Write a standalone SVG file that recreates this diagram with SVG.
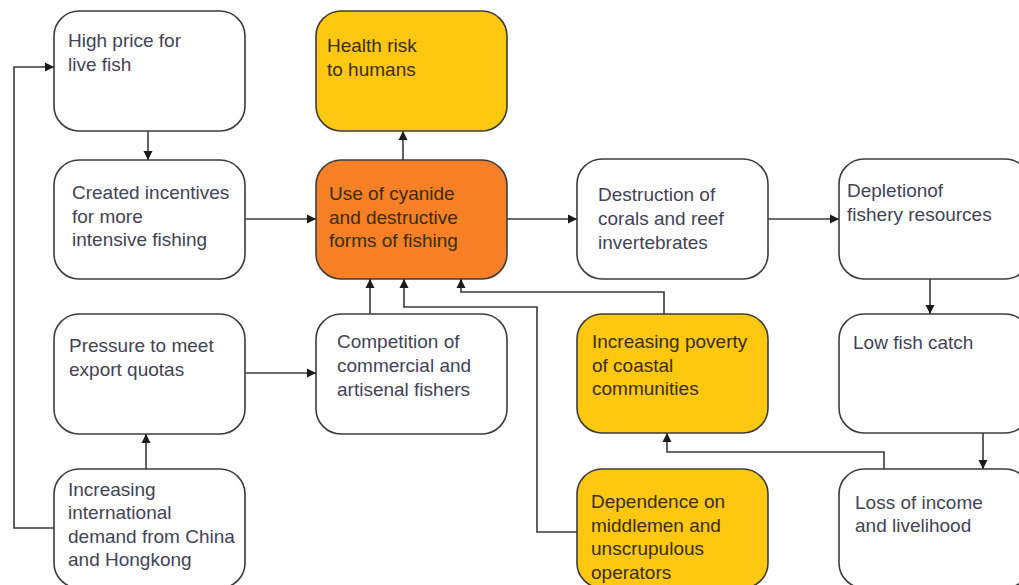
<svg xmlns="http://www.w3.org/2000/svg" width="1019" height="585" viewBox="0 0 1019 585">
<defs>
<marker id="ah" viewBox="0 0 10 10" refX="10" refY="5" markerWidth="9" markerHeight="10" markerUnits="userSpaceOnUse" orient="auto">
<path d="M0,0 L10,5 L0,10 z" fill="#1a1a1a"/>
</marker>
<style>
.box{stroke:#3c3c3c;stroke-width:1.6}
.w{fill:#ffffff}
.y{fill:#fdc80f}
.o{fill:#f77f26}
text{font-family:"Liberation Sans",Arial,sans-serif;font-size:19px}
.tw{fill:#434356}
.td{fill:#3a2e05}
.c{fill:none;stroke:#3a3a3a;stroke-width:1.6}
</style>
</defs>
<rect width="1019" height="585" fill="#ffffff"/>
<g id="connectors">
<path class="c" d="M148,131 V160" marker-end="url(#ah)"/>
<path class="c" d="M54,528 H14 V67 H54" marker-end="url(#ah)"/>
<path class="c" d="M146,469 V434" marker-end="url(#ah)"/>
<path class="c" d="M245,219 H316" marker-end="url(#ah)"/>
<path class="c" d="M245,373 H316" marker-end="url(#ah)"/>
<path class="c" d="M403,160 V131" marker-end="url(#ah)"/>
<path class="c" d="M507,219 H577" marker-end="url(#ah)"/>
<path class="c" d="M768,219 H839" marker-end="url(#ah)"/>
<path class="c" d="M930,279 V314" marker-end="url(#ah)"/>
<path class="c" d="M983,433 V469" marker-end="url(#ah)"/>
<path class="c" d="M884,469 V452 H667 V433" marker-end="url(#ah)"/>
<path class="c" d="M370,314 V279" marker-end="url(#ah)"/>
<path class="c" d="M577,532 H537 V307 H404 V279" marker-end="url(#ah)"/>
<path class="c" d="M664,314 V292 H461 V279" marker-end="url(#ah)"/>
</g>
<g id="high-price">
<rect class="box w" x="54" y="11" width="191" height="120" rx="25"/>
<text class="tw" x="68" y="47">High price for</text>
<text class="tw" x="68" y="71">live fish</text>
</g>
<g id="health-risk">
<rect class="box y" x="316" y="11" width="191" height="120" rx="25"/>
<text class="td" x="327" y="52">Health risk</text>
<text class="td" x="327" y="76">to humans</text>
</g>
<g id="created-incentives">
<rect class="box w" x="54" y="160" width="191" height="119" rx="25"/>
<text class="tw" x="72" y="199">Created incentives</text>
<text class="tw" x="72" y="223">for more</text>
<text class="tw" x="72" y="246">intensive fishing</text>
</g>
<g id="use-of-cyanide">
<rect class="box o" x="316" y="160" width="191" height="119" rx="25"/>
<text class="td" x="329" y="200">Use of cyanide</text>
<text class="td" x="329" y="224">and destructive</text>
<text class="td" x="329" y="247">forms of fishing</text>
</g>
<g id="destruction">
<rect class="box w" x="577" y="159" width="191" height="120" rx="25"/>
<text class="tw" x="598" y="201">Destruction of</text>
<text class="tw" x="598" y="225">corals and reef</text>
<text class="tw" x="598" y="249">invertebrates</text>
</g>
<g id="depletion">
<rect class="box w" x="839" y="159" width="191" height="120" rx="25"/>
<text class="tw" x="847" y="197">Depletionof</text>
<text class="tw" x="847" y="221">fishery resources</text>
</g>
<g id="pressure">
<rect class="box w" x="54" y="314" width="191" height="120" rx="25"/>
<text class="tw" x="69" y="352">Pressure to meet</text>
<text class="tw" x="69" y="376">export quotas</text>
</g>
<g id="competition">
<rect class="box w" x="316" y="314" width="191" height="120" rx="25"/>
<text class="tw" x="337" y="348">Competition of</text>
<text class="tw" x="337" y="372">commercial and</text>
<text class="tw" x="337" y="396">artisenal fishers</text>
</g>
<g id="poverty">
<rect class="box y" x="577" y="314" width="191" height="119" rx="25"/>
<text class="td" x="592" y="348">Increasing poverty</text>
<text class="td" x="592" y="372">of coastal</text>
<text class="td" x="592" y="395">communities</text>
</g>
<g id="low-fish-catch">
<rect class="box w" x="839" y="314" width="191" height="119" rx="25"/>
<text class="tw" x="853" y="349">Low fish catch</text>
</g>
<g id="international-demand">
<rect class="box w" x="54" y="469" width="191" height="119" rx="25"/>
<text class="tw" x="68" y="496">Increasing</text>
<text class="tw" x="68" y="519">international</text>
<text class="tw" x="68" y="543">demand from China</text>
<text class="tw" x="68" y="566">and Hongkong</text>
</g>
<g id="dependence">
<rect class="box y" x="577" y="469" width="191" height="119" rx="25"/>
<text class="td" x="591" y="508">Dependence on</text>
<text class="td" x="591" y="532">middlemen and</text>
<text class="td" x="591" y="555">unscrupulous</text>
<text class="td" x="591" y="579">operators</text>
</g>
<g id="loss-of-income">
<rect class="box w" x="839" y="469" width="191" height="119" rx="25"/>
<text class="tw" x="855" y="509">Loss of income</text>
<text class="tw" x="855" y="532">and livelihood</text>
</g>
</svg>
